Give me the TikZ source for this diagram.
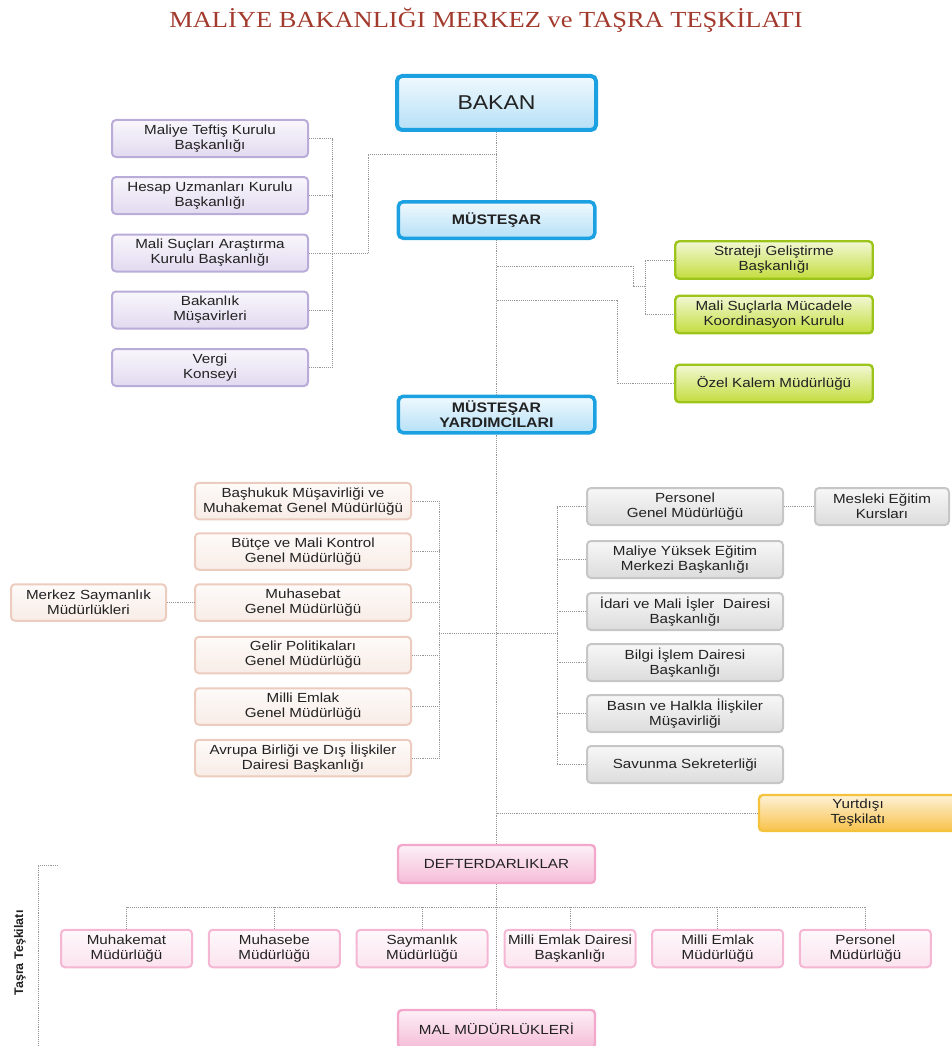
\documentclass[tikz,border=0pt]{standalone}
\usepackage{fontspec}
\setmainfont{Liberation Sans}[FakeStretch=1.15]
\newfontfamily\titlefont{Liberation Serif}[FakeStretch=1.15]
\newfontfamily\sidefont{Liberation Sans}
\usetikzlibrary{positioning,calc}
\usepackage{xcolor}
\definecolor{mbblue}{RGB}{27,161,226}
\definecolor{mbbluefill}{RGB}{181,224,247}
\definecolor{mbpurple}{RGB}{186,172,216}
\definecolor{mbpurplefill}{RGB}{226,218,240}
\definecolor{mbgreen}{RGB}{157,196,26}
\definecolor{mbgreenfill}{RGB}{196,221,62}
\definecolor{mbpeach}{RGB}{236,204,190}
\definecolor{mbpeachfill}{RGB}{248,236,230}
\definecolor{mbgray}{RGB}{198,198,198}
\definecolor{mbgrayfill}{RGB}{220,220,220}
\definecolor{mborange}{RGB}{245,194,60}
\definecolor{mborangefill}{RGB}{248,194,74}
\definecolor{mbpink}{RGB}{243,167,203}
\definecolor{mbpinkfill}{RGB}{245,188,216}
\definecolor{mbrose}{RGB}{245,182,212}
\definecolor{mbrosefill}{RGB}{251,227,238}
\definecolor{mbtext}{RGB}{34,34,34}
\definecolor{mbtitle}{RGB}{163,58,46}
\definecolor{mbline}{RGB}{150,150,150}
\tikzset{
    unit/.style 2 args={
        draw=#1,line width=2pt,rounded corners=4pt,
        top color=#2!22,bottom color=#2,
        align=center,text=mbtext,inner sep=2pt,
        font=\fontsize{13.2}{15}\selectfont
    },
    head/.style={
        draw=mbblue,line width=3.5pt,rounded corners=5pt,
        top color=mbbluefill!20,bottom color=mbbluefill,
        align=center,text=mbtext,minimum width=196.5pt,minimum height=36.5pt,
        font=\bfseries\fontsize{13.8}{15}\selectfont
    },
    link/.style={
        densely dotted,draw=mbline,line width=0.9pt
    }
}

\begin{document}
\begin{tikzpicture}[x=1pt,y=-1pt]
\useasboundingbox (0,0) rectangle (952,1046);
\clip (0,0) rectangle (952,1046);

\node[font=\titlefont\fontsize{23}{26}\selectfont,text=mbtitle]
(title) at (486,20) {MALİYE BAKANLIĞI MERKEZ ve TAŞRA TEŞKİLATI};

% merkez
\node[head,line width=4pt,minimum width=199pt,minimum height=54pt,
font=\fontsize{20}{22}\selectfont]
(bakan) at (496.5,103) {BAKAN};
\node[head] (mustesar) at (496.5,220) {MÜSTEŞAR};
\node[head] (yardimci) at (496.5,414.5) {MÜSTEŞAR\\YARDIMCILARI};

% kurullar
\node[unit={mbpurple}{mbpurplefill},minimum width=196pt,minimum height=37pt]
(tk1) at (210,138.5) {Maliye Teftiş Kurulu\\Başkanlığı};
\node[unit={mbpurple}{mbpurplefill},minimum width=196pt,minimum height=37pt]
(tk2) at (210,195.5) {Hesap Uzmanları Kurulu\\Başkanlığı};
\node[unit={mbpurple}{mbpurplefill},minimum width=196pt,minimum height=37pt]
(tk3) at (210,253) {Mali Suçları Araştırma\\Kurulu Başkanlığı};
\node[unit={mbpurple}{mbpurplefill},minimum width=196pt,minimum height=37pt]
(tk4) at (210,310) {Bakanlık\\Müşavirleri};
\node[unit={mbpurple}{mbpurplefill},minimum width=196pt,minimum height=37pt]
(tk5) at (210,367.5) {Vergi\\Konseyi};

\node[unit={mbgreen}{mbgreenfill},line width=2.4pt,minimum width=197.5pt,minimum height=37.5pt]
(sg1) at (774,260) {Strateji Geliştirme\\Başkanlığı};
\node[unit={mbgreen}{mbgreenfill},line width=2.4pt,minimum width=197.5pt,minimum height=37.5pt]
(sg2) at (774,314.5) {Mali Suçlarla Mücadele\\Koordinasyon Kurulu};
\node[unit={mbgreen}{mbgreenfill},line width=2.4pt,minimum width=197.5pt,minimum height=37.5pt]
(ozel) at (774,383.5) {Özel Kalem Müdürlüğü};

% genel mudurlukler
\node[unit={mbpeach}{mbpeachfill},minimum width=216pt,minimum height=36.5pt]
(gm1) at (303,501) {Başhukuk Müşavirliği ve\\Muhakemat Genel Müdürlüğü};
\node[unit={mbpeach}{mbpeachfill},minimum width=216pt,minimum height=36.5pt]
(gm2) at (303,551.5) {Bütçe ve Mali Kontrol\\Genel Müdürlüğü};
\node[unit={mbpeach}{mbpeachfill},minimum width=216pt,minimum height=36.5pt]
(gm3) at (303,602.5) {Muhasebat\\Genel Müdürlüğü};
\node[unit={mbpeach}{mbpeachfill},minimum width=216pt,minimum height=36.5pt]
(gm4) at (303,655) {Gelir Politikaları\\Genel Müdürlüğü};
\node[unit={mbpeach}{mbpeachfill},minimum width=216pt,minimum height=36.5pt]
(gm5) at (303,706.5) {Milli Emlak\\Genel Müdürlüğü};
\node[unit={mbpeach}{mbpeachfill},minimum width=216pt,minimum height=36.5pt]
(gm6) at (303,758) {Avrupa Birliği ve Dış İlişkiler\\Dairesi Başkanlığı};
\node[unit={mbpeach}{mbpeachfill},minimum width=155pt,minimum height=36.5pt]
(merkez) at (88.5,602.5) {Merkez Saymanlık\\Müdürlükleri};

\node[unit={mbgray}{mbgrayfill},minimum width=196pt,minimum height=37pt]
(pg1) at (685,506.5) {Personel\\Genel Müdürlüğü};
\node[unit={mbgray}{mbgrayfill},minimum width=196pt,minimum height=37pt]
(pg2) at (685,559.5) {Maliye Yüksek Eğitim\\Merkezi Başkanlığı};
\node[unit={mbgray}{mbgrayfill},minimum width=196pt,minimum height=37pt]
(pg3) at (685,611.5) {İdari ve Mali İşler\ \ Dairesi\\Başkanlığı};
\node[unit={mbgray}{mbgrayfill},minimum width=196pt,minimum height=37pt]
(pg4) at (685,662.5) {Bilgi İşlem Dairesi\\Başkanlığı};
\node[unit={mbgray}{mbgrayfill},minimum width=196pt,minimum height=37pt]
(pg5) at (685,713.5) {Basın ve Halkla İlişkiler\\Müşavirliği};
\node[unit={mbgray}{mbgrayfill},minimum width=196pt,minimum height=37pt]
(pg6) at (685,764.5) {Savunma Sekreterliği};
\node[unit={mbgray}{mbgrayfill},minimum width=134pt,minimum height=37pt]
(mesleki) at (882,506.5) {Mesleki Eğitim\\Kursları};

\node[unit={mborange}{mborangefill},line width=2.4pt,minimum width=198pt,minimum height=36pt]
(yurtdisi) at (858,813) {Yurtdışı\\Teşkilatı};

% tasra
\node[unit={mbpink}{mbpinkfill},line width=2.4pt,minimum width=197pt,minimum height=38pt]
(defter) at (496.5,864) {DEFTERDARLIKLAR};
\node[unit={mbpink}{mbpinkfill},line width=2.4pt,minimum width=197pt,minimum height=38pt]
(mal) at (496.5,1029) {MAL MÜDÜRLÜKLERİ};

\node[unit={mbrose}{mbrosefill},minimum width=131pt,minimum height=37.5pt]
(tm1) at (126.5,948.5) {Muhakemat\\Müdürlüğü};
\node[unit={mbrose}{mbrosefill},minimum width=131pt,minimum height=37.5pt]
(tm2) at (274.3,948.5) {Muhasebe\\Müdürlüğü};
\node[unit={mbrose}{mbrosefill},minimum width=131pt,minimum height=37.5pt]
(tm3) at (422,948.5) {Saymanlık\\Müdürlüğü};
\node[unit={mbrose}{mbrosefill},minimum width=131pt,minimum height=37.5pt]
(tm4) at (570,948.5) {Milli Emlak Dairesi\\Başkanlığı};
\node[unit={mbrose}{mbrosefill},minimum width=131pt,minimum height=37.5pt]
(tm5) at (717.6,948.5) {Milli Emlak\\Müdürlüğü};
\node[unit={mbrose}{mbrosefill},minimum width=131pt,minimum height=37.5pt]
(tm6) at (865.4,948.5) {Personel\\Müdürlüğü};

\node[rotate=90,text=mbtext,font=\sidefont\bfseries\fontsize{12.5}{14}\selectfont]
(tasra) at (20,953) {Taşra Teşkilatı};

% baglantilar
\coordinate (j1) at (496.5,154);
\coordinate (pturn) at (368,154);
\coordinate (pbus) at (332,0);
\coordinate (j2) at (496.5,266);
\coordinate (gturn) at (633,266);
\coordinate (gbus) at (645,286);
\coordinate (j3) at (496.5,300);
\coordinate (oturn) at (617,300);
\coordinate (j4) at (496.5,633);
\coordinate (lbus) at (439,633);
\coordinate (rbus) at (557,633);
\coordinate (j5) at (496.5,813);
\coordinate (j6) at (496.5,907);
\coordinate (tasratop) at (58,865);
\coordinate (tasrabot) at (38,1046);

\draw[link](bakan)--(mustesar);
\draw[link](mustesar)--(yardimci);
\draw[link](yardimci)--(defter);
\draw[link](defter)--(mal);

\draw[link](j1)--(pturn)|-(tk3.east -| pbus);
\draw[link](tk1.east -| pbus)--(tk5.east -| pbus);
\draw[link](tk1.east)--(tk1.east -| pbus) (tk2.east)--(tk2.east -| pbus)
(tk3.east)--(tk3.east -| pbus) (tk4.east)--(tk4.east -| pbus)
(tk5.east)--(tk5.east -| pbus);

\draw[link](j2)--(gturn)|-(gbus);
\draw[link](sg1.west)-|(gbus)|-(sg2.west);
\draw[link](j3)--(oturn)|-(ozel.west);

\draw[link](lbus)--(j4)--(rbus);
\draw[link](gm1.east -| lbus)--(gm6.east -| lbus);
\draw[link](gm1.east)--(gm1.east -| lbus) (gm2.east)--(gm2.east -| lbus)
(gm3.east)--(gm3.east -| lbus) (gm4.east)--(gm4.east -| lbus)
(gm5.east)--(gm5.east -| lbus) (gm6.east)--(gm6.east -| lbus);
\draw[link](merkez)--(gm3);

\draw[link](pg1.west -| rbus)--(pg6.west -| rbus);
\draw[link](pg1.west)--(pg1.west -| rbus) (pg2.west)--(pg2.west -| rbus)
(pg3.west)--(pg3.west -| rbus) (pg4.west)--(pg4.west -| rbus)
(pg5.west)--(pg5.west -| rbus) (pg6.west)--(pg6.west -| rbus);
\draw[link](pg1)--(mesleki);
\draw[link](j5)--(yurtdisi);

\draw[link](tm1 |- j6)--(tm6 |- j6);
\draw[link](tm1.north)--(tm1 |- j6) (tm2.north)--(tm2 |- j6)
(tm3.north)--(tm3 |- j6) (tm4.north)--(tm4 |- j6)
(tm5.north)--(tm5 |- j6) (tm6.north)--(tm6 |- j6);

\draw[link](tasratop)-|(tasrabot);

\end{tikzpicture}
\end{document}
